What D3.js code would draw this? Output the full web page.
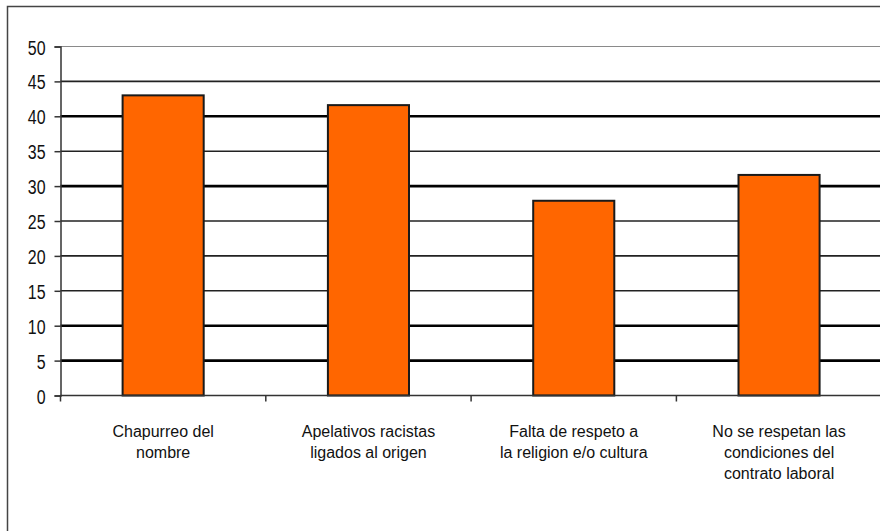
<!DOCTYPE html>
<html>
<head>
<meta charset="utf-8">
<script src="https://cdn.jsdelivr.net/npm/d3@7"></script>
<style>
  body { margin: 0; background: #fff; }
  svg { display: block; }
  .axis-label { font-family: "Liberation Sans", Arial, sans-serif; fill: #111; }
</style>
</head>
<body>
<script>
// Chart data
const categories = [
  "Chapurreo del\nnombre",
  "Apelativos racistas\nligados al origen",
  "Falta de respeto a\nla religion e/o cultura",
  "No se respetan las\ncondiciones del\ncontrato laboral"
];
const values = [43, 41.6, 27.9, 31.6];
const yTicks = [0, 5, 10, 15, 20, 25, 30, 35, 40, 45, 50];

document.addEventListener('DOMContentLoaded', () => {
  const w = 880;
  const h = 531;
  const left = 60.5;
  const step = 205.3;
  const squeeze = 0.76; // y labels are narrow and tall in the original

  const svg = d3.select("body")
    .append("svg")
    .attr("width", w)
    .attr("height", h);

  // Outer frame (runs off the right and bottom edge)
  svg.append("rect")
    .attr("x", 7.5)
    .attr("y", 6.5)
    .attr("width", w + 20)
    .attr("height", h + 20)
    .attr("fill", "none")
    .attr("stroke", "#444")
    .attr("stroke-width", 1.5);

  // Scales
  const xScale = d3.scaleBand()
    .domain(categories)
    .range([left, left + step * categories.length])
    .paddingInner(0.605)
    .paddingOuter(0.3025);

  const yScale = d3.scaleLinear()
    .domain([0, 50])
    .range([395.5, 46.5]);

  // Gridlines, heavy and light like the original
  const heavy = [5, 10, 30, 40];
  svg.append("g")
    .selectAll("line")
    .data(yTicks.filter(d => d > 0))
    .enter()
    .append("line")
    .attr("x1", left)
    .attr("x2", w)
    .attr("y1", d => yScale(d))
    .attr("y2", d => yScale(d))
    .attr("stroke", d => d === 50 ? "#8a8a8a" : heavy.includes(d) ? "#000" : "#222")
    .attr("stroke-width", d => d === 50 ? 1.2 : heavy.includes(d) ? 2.6 : 1.6);

  // Bars
  svg.selectAll("rect.bar")
    .data(values)
    .enter()
    .append("rect")
    .attr("class", "bar")
    .attr("x", (d, i) => xScale(categories[i]))
    .attr("y", d => yScale(d))
    .attr("width", xScale.bandwidth())
    .attr("height", d => yScale(0) - yScale(d))
    .attr("fill", "#ff6600")
    .attr("stroke", "#1a1a1a")
    .attr("stroke-width", 2);

  // Y axis
  const yAxis = d3.axisLeft(yScale)
    .tickValues(yTicks)
    .tickSize(6);

  const gy = svg.append("g")
    .attr("transform", `translate(${left}, 0)`)
    .call(yAxis);
  gy.select(".domain").attr("stroke", "#333").attr("stroke-width", 1.5);
  gy.selectAll(".tick line").attr("stroke", "#333").attr("stroke-width", 1.5);
  gy.selectAll(".tick text")
    .attr("class", "axis-label")
    .attr("x", -15 / squeeze)
    .attr("dy", "0.36em")
    .attr("transform", `scale(${squeeze},1)`)
    .style("font-size", "21px")
    .attr("fill", "#111");

  // X axis line with ticks at the category boundaries
  svg.append("line")
    .attr("x1", left)
    .attr("x2", w)
    .attr("y1", yScale(0))
    .attr("y2", yScale(0))
    .attr("stroke", "#333")
    .attr("stroke-width", 1.5);

  const bounds = d3.range(categories.length + 1).map(i => xScale.range()[0] + i * xScale.step());
  svg.append("g")
    .selectAll("line")
    .data(bounds)
    .enter()
    .append("line")
    .attr("x1", d => d)
    .attr("x2", d => d)
    .attr("y1", yScale(0))
    .attr("y2", yScale(0) + 6)
    .attr("stroke", "#333")
    .attr("stroke-width", 1.5);

  // Category labels
  const labels = svg.append("g")
    .selectAll("text")
    .data(categories)
    .enter()
    .append("text")
    .attr("class", "axis-label")
    .attr("x", d => xScale(d) + xScale.bandwidth() / 2)
    .attr("y", 437)
    .style("font-size", "16px")
    .style("text-anchor", "middle");

  labels.selectAll("tspan")
    .data(d => d.split("\n"))
    .enter()
    .append("tspan")
    .attr("x", function () { return this.parentNode.getAttribute("x"); })
    .attr("dy", (d, i) => i === 0 ? 0 : 21)
    .text(d => d);
});
</script>
</body>
</html>
